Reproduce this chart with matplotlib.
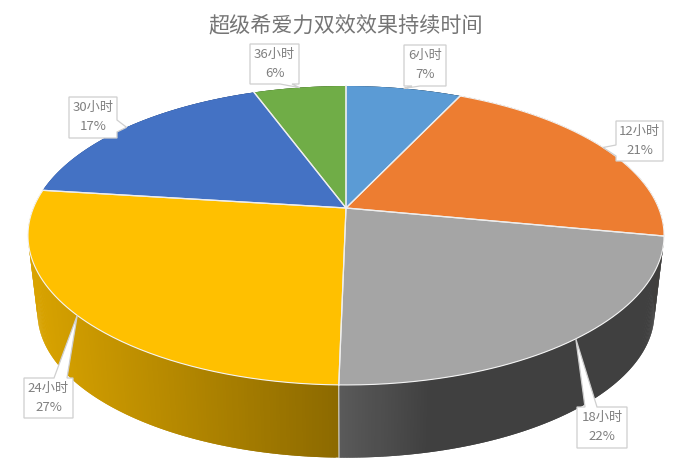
import numpy as np
import matplotlib
matplotlib.use("Agg")
import matplotlib.pyplot as plt
from matplotlib.collections import PolyCollection
from matplotlib.colors import to_rgb
from matplotlib.patches import Polygon

plt.rcParams['font.family'] = ['Noto Sans CJK SC', 'DejaVu Sans']

# data
title = "超级希爱力双效效果持续时间"
categories = ["6小时", "12小时", "18小时", "24小时", "30小时", "36小时"]
values = [7.0, 21.0, 22.3, 26.7, 17.4, 5.6]
colors = ["#5B9BD5", "#ED7D31", "#A5A5A5", "#FFC000", "#4472C4", "#70AD47"]

# layout (pixel coordinates of the reference)
label_boxes = [(404, 45, 446, 86), (616, 121, 663, 161), (577, 407, 627, 448),
               (24, 378, 73, 418), (69, 97, 117, 138), (250, 44, 299, 84)]
# side of the box the callout leaves from, and the two base offsets on it
tail_sides = [("bottom", 412, 420), ("left", 145, 156), ("top", 585, 597),
              ("top", 54, 67), ("right", 120, 132), ("bottom", 280, 292)]

CX, CY = 346.0, 208.0
A, B, K = 312.6, 144.4, 0.184
BOTTOM_SCALE, BOTTOM_CY = 0.97, 286.0


def project(theta, scale=1.0, cy=CY):
    """Perspective view of a disc; theta is clockwise from 12 o'clock, in degrees."""
    t = np.radians(theta)
    X, Y = np.sin(t), np.cos(t)
    d = 1 + K * Y
    return CX + scale * A * X / d, cy - scale * B * Y / d


def shade(x):
    return np.interp(x, [30, 338, 430, 665], [0.85, 0.55, 0.39, 0.39])


fig = plt.figure(figsize=(6.83, 4.72), dpi=100)
ax = fig.add_axes([0, 0, 1, 1])
ax.set_xlim(0, 683)
ax.set_ylim(472, 0)
ax.axis("off")

edges = np.concatenate([[0], np.cumsum(values)]) / np.sum(values) * 360

# side wall: each strip overlaps the next so that no seams show
polys, facecols = [], []
for i, col in enumerate(colors):
    a0, a1 = edges[i], edges[i + 1]
    n = max(2, int((a1 - a0) * 2))
    th = np.linspace(a0, a1, n + 1)
    tx, ty = project(th)
    bx, by = project(th, BOTTOM_SCALE, BOTTOM_CY)
    base = np.array(to_rgb(col))
    for j in range(n):
        k = min(j + 2, n)
        polys.append([(tx[j], ty[j]), *zip(tx[j + 1:k + 1], ty[j + 1:k + 1]),
                      *zip(bx[j + 1:k + 1][::-1], by[j + 1:k + 1][::-1]), (bx[j], by[j])])
        facecols.append(base * shade((tx[j] + tx[j + 1]) / 2))
ax.add_collection(PolyCollection(polys, facecolors=facecols, edgecolors="none", linewidths=0, zorder=1))

# seams on the visible side wall
for e in edges[:-1]:
    if 120 < e < 260:
        tx, ty = project(e)
        bx, by = project(e, BOTTOM_SCALE, BOTTOM_CY)
        ax.plot([tx, bx], [ty, by], color="#d8d8d8", lw=0.8, zorder=2)

# top face
for i, col in enumerate(colors):
    th = np.linspace(edges[i], edges[i + 1], 200)
    x, y = project(th)
    pts = np.column_stack([np.r_[CX, x], np.r_[CY, y]])
    ax.add_patch(Polygon(pts, closed=True, facecolor=col, edgecolor="none", zorder=3))
    ax.plot(np.r_[x[0], CX, x[-1]], np.r_[y[0], CY, y[-1]], color="#eeeeee", lw=0.9, zorder=3.1)
    if edges[i + 1] > 95 and edges[i] < 270:
        ax.plot(x, y, color="#f4f4f4", lw=0.8, zorder=3.1)

ax.text(345.5, 25, title, ha="center", va="center", fontsize=15.2, fontweight="light",
        color="#757575", zorder=6)

# callout labels
for i, (cat, val) in enumerate(zip(categories, values)):
    x0, y0, x1, y1 = label_boxes[i]
    tip = project((edges[i] + edges[i + 1]) / 2)
    side, p, q = tail_sides[i]
    if side == "top":
        outline = [(x0, y0), (p, y0), tip, (q, y0), (x1, y0), (x1, y1), (x0, y1)]
    elif side == "bottom":
        outline = [(x0, y0), (x1, y0), (x1, y1), (q, y1), tip, (p, y1), (x0, y1)]
    elif side == "left":
        outline = [(x0, y0), (x1, y0), (x1, y1), (x0, y1), (x0, q), tip, (x0, p)]
    else:
        outline = [(x0, y0), (x1, y0), (x1, p), tip, (x1, q), (x1, y1), (x0, y1)]
    ax.add_patch(Polygon(outline, closed=True, facecolor="white", edgecolor="#cfcfcf", lw=0.9, zorder=4))
    xc, yc = (x0 + x1) / 2, (y0 + y1) / 2
    ax.text(xc, yc - 9.5, cat, ha="center", va="center", fontsize=9.5, color="#808080", zorder=5)
    ax.text(xc, yc + 9.5, f"{val:.0f}%", ha="center", va="center", fontsize=9.5, color="#808080", zorder=5)

fig.savefig("out.png", dpi=100, facecolor="white")
